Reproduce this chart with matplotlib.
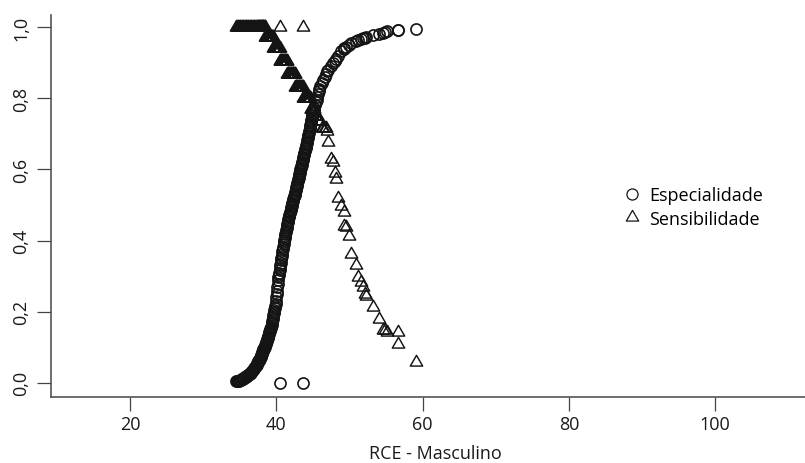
import matplotlib
matplotlib.use('Agg')
import matplotlib.pyplot as plt
from matplotlib.path import Path

plt.rcParams['font.family'] = ['Open Sans', 'DejaVu Sans']

# pontos de corte da RCE (masculino)
rce = [34.5, 34.6, 34.7, 34.8, 34.9, 35.0, 35.1, 35.2, 35.3, 35.4,
       35.5, 35.6, 35.7, 35.8, 35.9, 36.0, 36.1, 36.2, 36.3, 36.4,
       36.5, 36.6, 36.7, 36.8, 36.9, 37.0, 37.1, 37.2, 37.3, 37.4,
       37.50, 37.55, 37.60, 37.65, 37.70, 37.75, 37.80, 37.85, 37.90, 37.95,
       38.00, 38.05, 38.10, 38.15, 38.20, 38.25, 38.30, 38.35, 38.40, 38.45,
       38.50, 38.55, 38.60, 38.65, 38.70, 38.75, 38.80, 38.85, 38.90, 38.95,
       39.00, 39.05, 39.10, 39.15, 39.20, 39.25, 39.30, 39.35, 39.40, 39.45,
       39.50, 39.55, 39.60, 39.65, 39.70, 39.75, 39.80, 39.85, 39.90, 39.95,
       40.00, 40.05, 40.10, 40.15, 40.20, 40.25, 40.30, 40.35, 40.40, 40.45,
       40.50, 40.55, 40.60, 40.65, 40.70, 40.75, 40.80, 40.85, 40.90, 40.95,
       41.00, 41.05, 41.10, 41.15, 41.20, 41.25, 41.30, 41.35, 41.40, 41.45,
       41.50, 41.55, 41.60, 41.65, 41.70, 41.75, 41.80, 41.85, 41.90, 41.95,
       42.00, 42.05, 42.10, 42.15, 42.20, 42.25, 42.30, 42.35, 42.40, 42.45,
       42.50, 42.55, 42.60, 42.65, 42.70, 42.75, 42.80, 42.85, 42.90, 42.95,
       43.00, 43.05, 43.10, 43.15, 43.20, 43.25, 43.30, 43.35, 43.40, 43.45,
       43.50, 43.55, 43.60, 43.65, 43.70, 43.75, 43.80, 43.85, 43.90, 43.95,
       44.00, 44.05, 44.10, 44.15, 44.20, 44.25, 44.30, 44.35, 44.40, 44.45,
       44.50, 44.55, 44.60, 44.65, 44.70, 44.75, 44.80, 44.85, 44.90, 44.95,
       45.0, 45.1, 45.2, 45.3, 45.4, 45.5, 45.6, 45.7, 45.8, 45.9,
       46.0, 46.2, 46.4, 46.6, 46.8, 47.0, 47.1, 47.5, 47.8, 48.0,
       48.2, 48.5, 48.9, 49.2, 49.3, 49.6, 49.9, 50.2, 50.9, 51.2,
       51.6, 51.8, 52.1, 52.3, 53.2, 54.1, 54.6, 54.9, 55.2, 56.6,
       56.7, 59.1, 40.45, 43.6]

especificidade = [.004, .005, .005, .006, .006, .007, .008, .009, .010, .011,
                  .013, .014, .015, .017, .018, .020, .021, .023, .024, .026,
                  .028, .030, .032, .035, .038, .042, .045, .048, .051, .055,
                  .058, .060, .061, .063, .064, .067, .070, .073, .076, .079,
                  .082, .084, .086, .089, .091, .094, .096, .099, .101, .104,
                  .106, .109, .111, .115, .118, .122, .125, .129, .132, .136,
                  .140, .143, .146, .149, .151, .154, .157, .163, .168, .174,
                  .179, .185, .190, .195, .200, .205, .210, .216, .221, .231,
                  .240, .250, .259, .269, .278, .288, .297, .304, .310, .317,
                  .323, .330, .337, .344, .350, .357, .363, .370, .376, .383,
                  .390, .396, .401, .407, .412, .418, .423, .429, .434, .440,
                  .445, .451, .456, .461, .465, .469, .473, .477, .481, .485,
                  .489, .494, .498, .502, .506, .511, .515, .518, .521, .524,
                  .527, .532, .536, .541, .545, .550, .554, .559, .563, .568,
                  .572, .577, .581, .586, .590, .595, .600, .605, .609, .613,
                  .617, .622, .626, .630, .634, .639, .643, .647, .651, .656,
                  .660, .664, .668, .673, .677, .682, .687, .693, .698, .703,
                  .708, .714, .719, .724, .729, .735, .740, .745, .750, .754,
                  .758, .766, .773, .781, .789, .796, .804, .812, .820, .827,
                  .835, .843, .851, .860, .868, .876, .879, .890, .898, .905,
                  .910, .920, .932, .938, .940, .945, .950, .955, .962, .964,
                  .967, .968, .970, .972, .977, .981, .984, .986, .988, .993,
                  .993, .996, 0.0, 0.0]

sensibilidade = [1, 1, 1, 1, 1, 1, 1, 1, 1, 1,
                 1, 1, 1, 1, 1, 1, 1, 1, 1, 1,
                 1, 1, 1, 1, 1, 1, 1, 1, 1, 1,
                 1, 1, 1, 1, 1, 1, 1, 1, 1, 1,
                 1, 1, 1, 1, 1, 1, 1, 1, 1, 1,
                 .972, .972, .972, .972, .972, .972, .972, .972, .972, .972,
                 .972, .972, .972, .972, .972, .972, .972, .972, .972, .972,
                 .972, .972, .94, .94, .94, .94, .94, .94, .94, .94,
                 .94, .94, .94, .94, .94, .94, .94, .94, .94, .94,
                 .905, .905, .905, .905, .905, .905, .905, .905, .905, .905,
                 .905, .905, .905, .905, .905, .905, .905, .905, .905, .905,
                 .868, .868, .868, .868, .868, .868, .868, .868, .868, .868,
                 .868, .868, .868, .868, .868, .868, .868, .868, .868, .868,
                 .868, .868, .832, .832, .832, .832, .832, .832, .832, .832,
                 .832, .832, .832, .832, .832, .832, .832, .832, .832, .832,
                 .832, .832, .832, .832, .80, .80, .80, .80, .80, .80,
                 .80, .80, .80, .80, .80, .80, .80, .80, .80, .80,
                 .80, .80, .80, .80, .77, .77, .77, .77, .77, .77,
                 .77, .77, .77, .75, .75, .75, .75, .735, .735, .735,
                 .735, .716, .716, .716, .716, .709, .676, .63, .62, .59,
                 .573, .52, .498, .479, .44, .437, .414, .362, .332, .297,
                 .283, .269, .25, .245, .213, .18, .147, .147, .143, .143,
                 .11, .058, 1, 1]

x_ticks = [20, 40, 60, 80, 100]
y_ticks = [0.0, 0.2, 0.4, 0.6, 0.8, 1.0]
y_labels = ['0,0', '0,2', '0,4', '0,6', '0,8', '1,0']

assert len(rce) == len(especificidade) == len(sensibilidade)

W, H = 805, 464
fig = plt.figure(figsize=(W / 100, H / 100), dpi=100)
# plot region runs a little past the right edge of the picture
ax = fig.add_axes([51 / W, (H - 398) / H, (819 - 51) / W, (398 - 16) / H])

ink = '#141414'
tri = Path([(-1, -0.577), (1, -0.577), (0, 1.155), (-1, -0.577)], closed=True)

ax.plot(rce, especificidade, linestyle='none', marker='o', ms=8.0,
        mfc='none', mec=ink, mew=1.2, label='Especialidade', clip_on=False)
ax.plot(rce, sensibilidade, linestyle='none', marker=tri, ms=10.3,
        mfc='none', mec=ink, mew=1.05, label='Sensibilidade', clip_on=False)

ax.set_xlim(9.2, 114.2)
ax.set_ylim(-0.04, 1.034)

for s in ['top', 'right']:
    ax.spines[s].set_visible(False)
for s in ['left', 'bottom']:
    ax.spines[s].set_color('#555555')
    ax.spines[s].set_linewidth(1.2)

ax.set_xticks(x_ticks)
ax.set_xticklabels([str(v) for v in x_ticks])
ax.set_yticks(y_ticks)
ax.set_yticklabels(y_labels, rotation=90, va='center', ha='center')
ax.tick_params(axis='both', direction='out', length=10, width=0.9,
               color='#444444', labelsize=13, labelcolor='#1a1a1a')
ax.tick_params(axis='x', pad=3)
ax.tick_params(axis='y', pad=11.5)

ax.set_xlabel('RCE - Masculino', fontsize=13, color='#1a1a1a', labelpad=8)

leg = ax.legend(loc='center left', bbox_to_anchor=((632 - 9) / W, (H - 208) / H),
                bbox_transform=fig.transFigure, frameon=False, fontsize=13,
                handlelength=1.0, handletextpad=0.45, labelspacing=0.3,
                borderpad=0, borderaxespad=0)
for h in leg.legend_handles:
    h.set_markeredgewidth(0.9)

fig.savefig('out.png', dpi=100)
